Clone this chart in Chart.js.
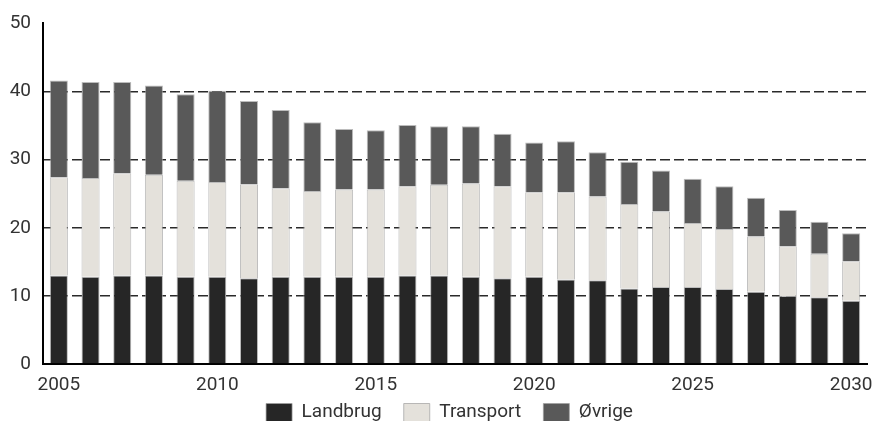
<!DOCTYPE html>
<html>
<head>
<meta charset="utf-8">
<script src="https://cdn.jsdelivr.net/npm/chart.js@4.4.0/dist/chart.umd.min.js"></script>
<style>
  html, body { margin: 0; padding: 0; background: #fff; }
  #wrap { width: 872px; height: 421px; }
</style>
</head>
<body>
<div id="wrap"><canvas id="myChart"></canvas></div>
<script>
// Years on the x axis
const years = [2005, 2006, 2007, 2008, 2009, 2010, 2011, 2012, 2013, 2014, 2015, 2016, 2017,
  2018, 2019, 2020, 2021, 2022, 2023, 2024, 2025, 2026, 2027, 2028, 2029, 2030];

// Series values
const landbrug = [13.0, 12.8, 13.0, 13.0, 12.8, 12.8, 12.6, 12.8, 12.8, 12.8, 12.8, 13.0, 13.0,
  12.8, 12.6, 12.8, 12.4, 12.3, 11.1, 11.3, 11.3, 11.0, 10.6, 10.0, 9.8, 9.3];
const transport = [14.4, 14.5, 15.0, 14.8, 14.1, 13.9, 13.8, 13.0, 12.6, 12.8, 12.8, 13.1, 13.3,
  13.7, 13.5, 12.4, 12.8, 12.3, 12.4, 11.1, 9.4, 8.8, 8.1, 7.3, 6.4, 5.8];
const oevrige = [14.2, 14.1, 13.4, 13.1, 12.7, 13.4, 12.2, 11.5, 10.1, 8.9, 8.7, 9.0, 8.6,
  8.4, 7.7, 7.3, 7.5, 6.5, 6.2, 6.0, 6.5, 6.3, 5.7, 5.3, 4.7, 4.1];

const yTicks = [0, 10, 20, 30, 40, 50];

// the legend sits a bit right of the canvas centre in the original
const legendShift = {
  id: 'legendShift',
  afterLayout(c) {
    c.legend.left += 16;
    c.legend.right += 16;
  }
};

const ctx = document.getElementById('myChart').getContext('2d');
const chart = new Chart(ctx, {
  type: 'bar',
  data: {
    labels: years,
    datasets: [
      { label: 'Landbrug', data: landbrug, backgroundColor: '#262626' },
      { label: 'Transport', data: transport, backgroundColor: '#e4e1db' },
      { label: 'Øvrige', data: oevrige, backgroundColor: '#595959' }
    ]
  },
  plugins: [legendShift],
  options: {
    responsive: true,
    maintainAspectRatio: false,
    animation: false,
    layout: { padding: { left: 0, right: 5, top: 12, bottom: -11 } },
    datasets: {
      bar: {
        barPercentage: 0.57,
        categoryPercentage: 1,
        borderWidth: 1,
        borderColor: 'rgba(160,160,160,0.7)'
      }
    },
    scales: {
      x: {
        stacked: true,
        // the 2030 label may hang past the plot edge
        afterFit: s => { s.height = 31; s.paddingLeft = 0; s.paddingRight = 0; },
        grid: { display: false, drawTicks: false },
        border: { display: true, color: '#000', width: 2 },
        ticks: {
          autoSkip: false,
          maxRotation: 0,
          padding: 10,
          color: '#333',
          font: { family: 'Roboto', size: 19 },
          callback: function (value, index) {
            const y = years[index];
            return y % 5 === 0 ? String(y) : '';
          }
        }
      },
      y: {
        stacked: true,
        min: 0,
        max: 50,
        afterFit: s => { s.width = 43; },
        afterBuildTicks: axis => { axis.ticks = yTicks.map(v => ({ value: v })); },
        grid: {
          drawTicks: false,
          lineWidth: 1.4,
          color: c => (c.tick && c.tick.value > 0 && c.tick.value < 50) ? '#2a2a2a' : 'rgba(0,0,0,0)'
        },
        border: { display: true, color: '#000', width: 2, dash: [10, 4] },
        ticks: {
          padding: 12,
          color: '#333',
          font: { family: 'Roboto', size: 19 }
        }
      }
    },
    plugins: {
      legend: {
        position: 'bottom',
        labels: {
          boxWidth: 26,
          boxHeight: 18,
          padding: 8,
          color: '#333',
          font: { family: 'Roboto', size: 19 },
          // a little extra room between the legend entries
          generateLabels: c => Chart.defaults.plugins.legend.labels.generateLabels(c).map((item, i, all) => {
            if (i < all.length - 1) item.text += '   ';
            return item;
          })
        }
      },
      tooltip: { enabled: false }
    }
  }
});
</script>
</body>
</html>
